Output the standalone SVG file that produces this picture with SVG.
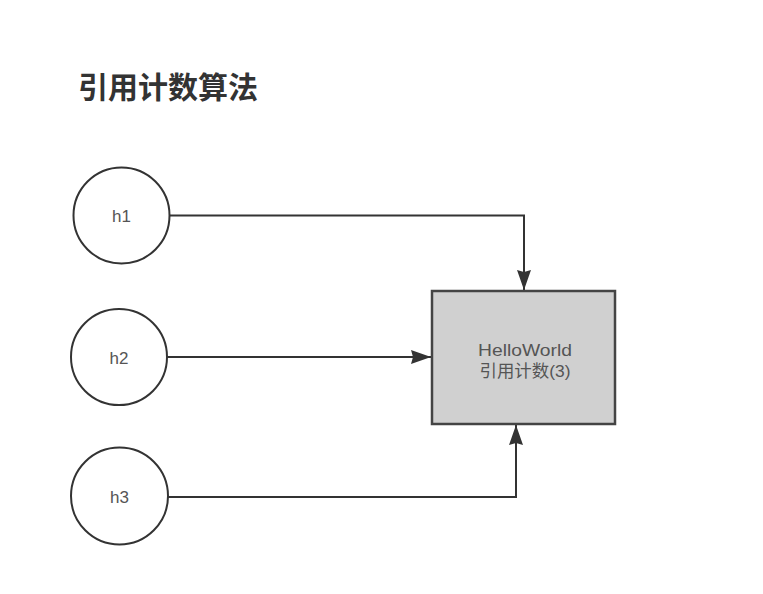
<svg xmlns="http://www.w3.org/2000/svg" width="763" height="594" viewBox="0 0 763 594">
<style>
.node{fill:#fff;stroke:#333;stroke-width:2}
.box{fill:#d0d0d0;stroke:#444;stroke-width:2.5}
.lbl{font-family:"Liberation Sans","Noto Sans CJK SC",sans-serif;font-size:17px;fill:#555;text-anchor:middle}
.edge{fill:none;stroke:#333;stroke-width:2}
.title{font-family:"Noto Sans CJK SC",sans-serif;font-size:30px;font-weight:bold;fill:#333}
</style>
<defs>
<marker id="arr" viewBox="0 0 20 14" refX="20" refY="7" markerWidth="20" markerHeight="14" markerUnits="userSpaceOnUse" orient="auto"><path d="M0,0 L20,7 L0,14 L2,7 Z" fill="#333"/></marker>
</defs>
<rect width="763" height="594" fill="#fff"/>
<text class="title" x="78" y="98">引用计数算法</text>
<g id="connectors">
<path class="edge" d="M170,215.5 H524 V290" marker-end="url(#arr)"/>
<path class="edge" d="M167,357 H431" marker-end="url(#arr)"/>
<path class="edge" d="M168,497 H516 V425" marker-end="url(#arr)"/>
</g>
<g id="h1"><circle class="node" cx="121.5" cy="215.5" r="48"/><text class="lbl" x="121.5" y="222">h1</text></g>
<g id="h2"><circle class="node" cx="119" cy="357" r="48"/><text class="lbl" x="119" y="364">h2</text></g>
<g id="h3"><circle class="node" cx="119.5" cy="496" r="48.5"/><text class="lbl" x="119.5" y="503">h3</text></g>
<g id="helloworld"><rect class="box" x="432" y="291" width="183" height="133"/><text class="lbl" x="525" y="356" textLength="94" lengthAdjust="spacingAndGlyphs">HelloWorld</text><text class="lbl" x="525" y="377" textLength="91" lengthAdjust="spacingAndGlyphs">引用计数(3)</text></g>
</svg>
